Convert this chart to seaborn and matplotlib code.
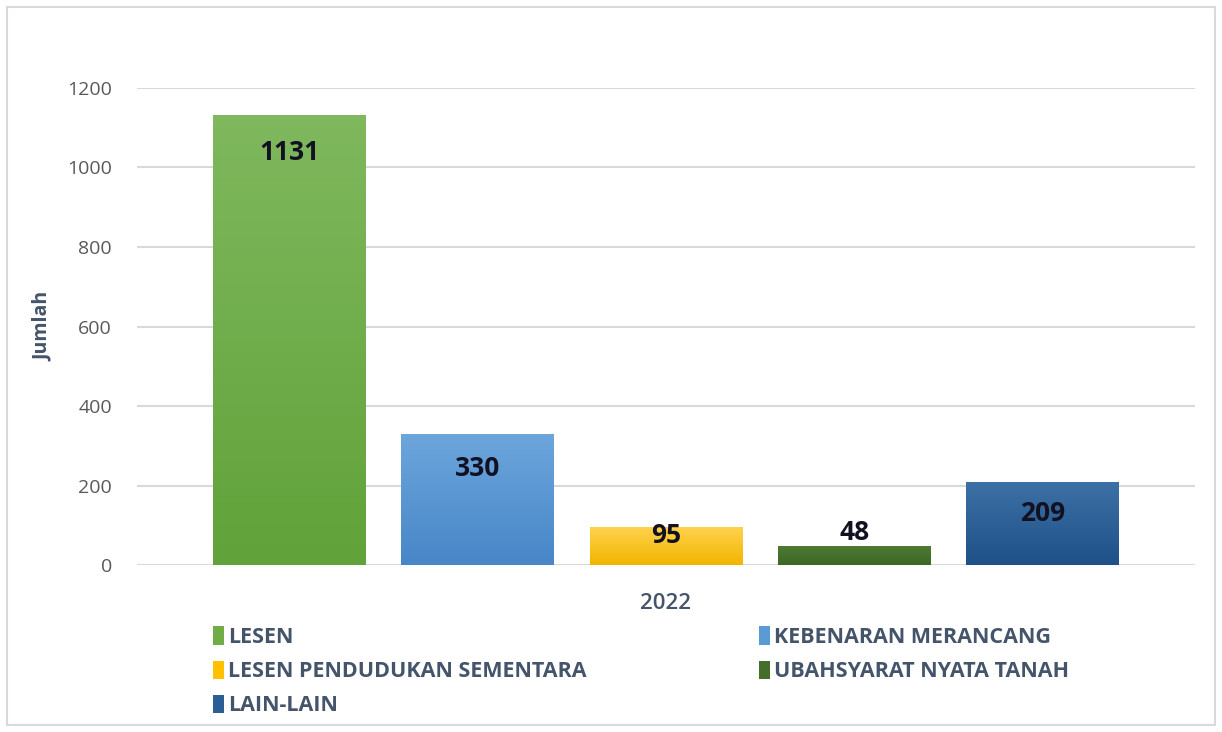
import matplotlib
matplotlib.use("Agg")
import matplotlib.pyplot as plt
import numpy as np
import pandas as pd
import seaborn as sns
from matplotlib.colors import LinearSegmentedColormap
from matplotlib.patches import Rectangle

# Data
categories = ["LESEN", "KEBENARAN MERANCANG", "LESEN PENDUDUKAN SEMENTARA",
              "UBAHSYARAT NYATA TANAH", "LAIN-LAIN"]
values = [1131, 330, 95, 48, 209]
year = "2022"
yticks = [0, 200, 400, 600, 800, 1000, 1200]

colors = ["#70AD47", "#5B9BD5", "#FFC000", "#456E2C", "#2A5E94"]
# gradient (top, bottom) per bar, Excel-style shading
grad = [("#7FB85D", "#61A23A"), ("#6CA6DC", "#4886C8"), ("#FFD24D", "#F2B500"),
        ("#4F7B34", "#3D6725"), ("#3D70A4", "#1E5188")]
# label offsets from bar top (points): inside for tall bars, above for the short one
label_offsets = [-27, -25, -6, 10, -23]

df = pd.DataFrame({"year": [year] * len(categories), "category": categories, "value": values})

sns.set_theme(style="white")
plt.rcParams["font.family"] = ["Open Sans", "DejaVu Sans"]

fig = plt.figure(figsize=(12.22, 7.32), dpi=100)
ax = fig.add_axes([0.1121, 0.2281, 0.8658, 0.6517])

# outer frame
fig.patches.append(Rectangle((7 / 1222, 7 / 732), 1208 / 1222, 718 / 732,
                             transform=fig.transFigure, fill=False,
                             edgecolor="#d9d9d9", linewidth=1.5, zorder=0))

sns.barplot(data=df, x="year", y="value", hue="category", hue_order=categories,
            palette=colors, width=0.89, gap=0.19, saturation=1, legend=True, ax=ax,
            linewidth=0, zorder=3)

for cont, off, (top, bot) in zip(ax.containers, label_offsets, grad):
    cmap = LinearSegmentedColormap.from_list("g", [bot, top])
    for bar in cont:
        h = bar.get_height()
        x0 = bar.get_x()
        w = bar.get_width()
        img = ax.imshow(np.linspace(0, 1, 64).reshape(-1, 1), cmap=cmap, origin="lower",
                        extent=[x0, x0 + w, 0, h], aspect="auto", zorder=3.5)
        img.set_clip_path(bar)
        ax.annotate(f"{int(h)}", (x0 + w / 2, h),
                    xytext=(0, off), textcoords="offset points",
                    ha="center", va="center", fontsize=19, fontweight="bold",
                    color="#111122", zorder=5)

ax.set_xlim(-0.5, 0.5)
ax.set_ylim(0, 1200)
ax.set_yticks(yticks)
ax.yaxis.grid(True, color="#d9d9d9", linewidth=1.5)
ax.set_axisbelow(True)
for s in ax.spines.values():
    s.set_visible(False)
ax.tick_params(axis="y", labelsize=14, labelcolor="#595959", length=0, pad=18)
ax.tick_params(axis="x", length=0, labelbottom=False)
ax.set_xlabel(year, fontsize=16, fontweight="semibold", color="#44546A", labelpad=20)
ax.set_ylabel("Jumlah", fontsize=14, fontweight="bold", color="#44546A", labelpad=10)

handles, labels = ax.get_legend_handles_labels()
ax.get_legend().remove()
# matplotlib fills legend columns first; reorder so entries read row by row
order = [0, 2, 4, 1, 3]
fig.legend([handles[i] for i in order], [labels[i] for i in order], ncol=2,
           loc="upper left", bbox_to_anchor=(194 / 1222, 1 - 607 / 732), frameon=False,
           handlelength=0.5, handleheight=0.95, handletextpad=0.2,
           columnspacing=8.0, labelspacing=0.58,
           prop={"size": 15.5, "weight": "bold"}, labelcolor="#44546A")

fig.savefig("out.png", dpi=100)
